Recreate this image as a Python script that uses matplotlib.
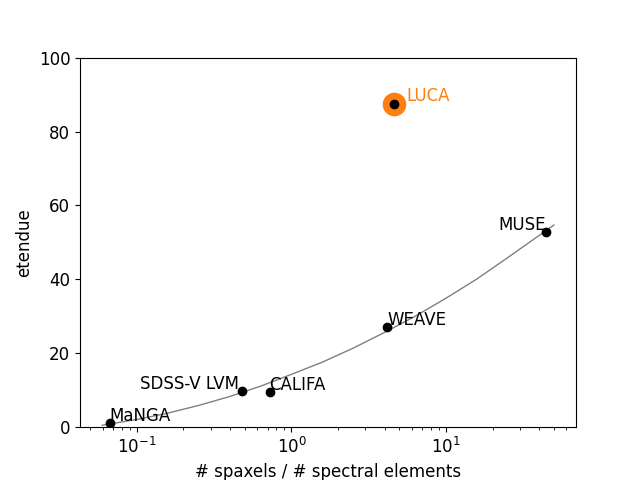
import matplotlib
matplotlib.use('Agg')
import matplotlib.pyplot as plt

plt.rcParams['font.size'] = 12

# instruments: ratio of spaxels to spectral elements vs etendue
names = ['MaNGA', 'SDSS-V LVM', 'CALIFA', 'WEAVE', 'MUSE']
ratio = [0.0668, 0.482, 0.721, 4.18, 44.4]
etendue = [1.1, 9.7, 9.4, 27.1, 52.8]

luca_ratio = 4.64
luca_etendue = 87.5

# trend curve
curve_x = [0.0596, 0.1, 0.1585, 0.2512, 0.3981, 0.631, 1.0, 1.585,
           2.512, 3.981, 6.31, 10.0, 15.85, 25.12, 39.81, 49.9]
curve_y = [0.54, 2.1, 3.8, 5.9, 8.3, 11.1, 14.3, 17.6,
           21.4, 25.6, 30.0, 34.9, 40.1, 45.9, 51.8, 54.7]

fig, ax = plt.subplots(figsize=(6.4, 4.8), dpi=100)

ax.plot(curve_x, curve_y, color='gray', lw=1)
ax.plot(luca_ratio, luca_etendue, 'o', color='tab:orange', markersize=16)
ax.plot(ratio, etendue, 'ko')
ax.plot(luca_ratio, luca_etendue, 'ko')

ax.text(ratio[0], etendue[0] + 0.5, names[0])
ax.text(ratio[1] * 0.95, etendue[1] + 0.6, names[1], ha='right')
ax.text(ratio[2], etendue[2] + 0.8, names[2])
ax.text(ratio[3], etendue[3] + 0.5, names[3])
ax.text(ratio[4], etendue[4] + 0.5, names[4], ha='right')
ax.text(luca_ratio * 1.2, luca_etendue + 0.8, 'LUCA', color='tab:orange')

ax.set_xscale('log')
ax.set_xlim(0.0428, 69.4)
ax.set_ylim(0, 100)
ax.set_xlabel('# spaxels / # spectral elements')
ax.set_ylabel('etendue')

plt.savefig('out.png')
